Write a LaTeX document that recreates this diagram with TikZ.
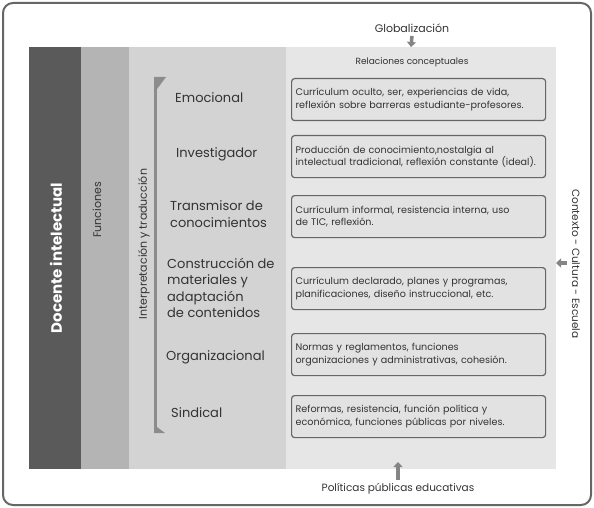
\documentclass[tikz,border=0pt]{standalone}
\usepackage{fontspec}
\setmainfont{Poppins}
\usepackage{tikz}
\usetikzlibrary{positioning,arrows.meta}
\usepackage{xcolor}
\definecolor{darkcol}{HTML}{5A5A5A}
\definecolor{funcol}{HTML}{B4B4B4}
\definecolor{intcol}{HTML}{D3D3D3}
\definecolor{relcol}{HTML}{E6E6E6}
\definecolor{boxfill}{HTML}{E2E2E2}
\definecolor{linecol}{HTML}{666666}
\definecolor{txtcol}{HTML}{333333}

\begin{document}
\begin{tikzpicture}[x=1pt, y=-1pt,
    role/.style={anchor=west, align=left, font=\fontsize{13}{16.5}\selectfont, text=txtcol, inner sep=0pt},
    relbox/.style={draw=linecol, line width=1.2pt, rounded corners=3pt, fill=boxfill,
        minimum width=254pt, minimum height=42pt, text width=246pt, align=left,
        font=\fontsize{9.6}{12.5}\selectfont, text=txtcol, anchor=north west},
    fatarrow/.style={-{Triangle[length=5pt, width=9pt]}, line width=3.5pt, draw=linecol!80}]
        \useasboundingbox (0,0) rectangle (594,508);

        % Outer frame
        \draw[linecol, line width=2pt, rounded corners=10pt] (3,3) rectangle (591,505);

        % Columns
        \fill[darkcol] (29,47) rectangle (81,469);
        \fill[funcol]  (81,47) rectangle (129,469);
        \fill[intcol]  (129,47) rectangle (286,469);
        \fill[relcol]  (286,47) rectangle (556,469);

        % Column titles
        \node[rotate=90, text=white, font=\bfseries\fontsize{15}{17}\selectfont] (docente) at (56,258) {Docente intelectual};
        \node[rotate=90, text=txtcol, font=\fontsize{11}{13}\selectfont] (funciones) at (97,210) {Funciones};
        \node[rotate=90, text=txtcol, font=\fontsize{11}{13}\selectfont] (interp) at (144,244) {Interpretación y traducción};

        % Vertical bar with flags
        \fill[linecol!75] (154,77) rectangle (157,433);
        \fill[linecol!75] (154,77) -- (166,77) -- (157,89) -- cycle;
        \fill[linecol!75] (154,433) -- (165,433) -- (157,427) -- cycle;

        % Roles
        \node[role] (emoc)  at (175,98)  {Emocional};
        \node[role] (inves) at (176,154) {Investigador};
        \node[role] (trans) at (170,214) {Transmisor de\\conocimientos};
        \node[role] (const) at (167,288) {Construcción de\\materiales y\\adaptación\\de contenidos};
        \node[role] (organ) at (166,357) {Organizacional};
        \node[role] (sindi) at (171,413) {Sindical};

        % Relaciones conceptuales
        \node[text=txtcol, font=\fontsize{9}{11}\selectfont] (relac) at (412,62) {Relaciones conceptuales};

        \node[relbox] (r1) at (291,78)  {Currículum oculto, ser, experiencias de vida,\\reflexión sobre barreras estudiante-profesores.};
        \node[relbox] (r2) at (291,135) {Producción de conocimiento,nostalgia al\\intelectual tradicional, reflexión constante (ideal).};
        \node[relbox] (r3) at (291,195) {Currículum informal, resistencia interna, uso\\de TIC, reflexión.};
        \node[relbox] (r4) at (291,267) {Currículum declarado, planes y programas,\\planificaciones, diseño instruccional, etc.};
        \node[relbox] (r5) at (291,333) {Normas y reglamentos, funciones\\organizaciones y administrativas, cohesión.};
        \node[relbox] (r6) at (291,395) {Reformas, resistencia, función política y\\económica, funciones públicas por niveles.};

        % Outside influences
        \node[text=txtcol, font=\fontsize{11}{13}\selectfont] (glob) at (412,28) {Globalización};
        \node[text=txtcol, font=\fontsize{10.5}{12}\selectfont] (polit) at (398,489) {Políticas públicas educativas};
        \node[rotate=-90, text=txtcol, font=\fontsize{10.5}{12}\selectfont] (contx) at (576,264) {Contexto - Cultura - Escuela};
        \coordinate (top) at (411,47);
        \coordinate (bot) at (398,462);
        \coordinate (rgt) at (556,263);
        \coordinate (rgtstart) at (567,263);

        \draw[fatarrow] (glob.south) -- (top);
        \draw[fatarrow] (polit.north) -- (bot);
        \draw[fatarrow] (rgtstart) -- (rgt);
    \end{tikzpicture}
\end{document}
